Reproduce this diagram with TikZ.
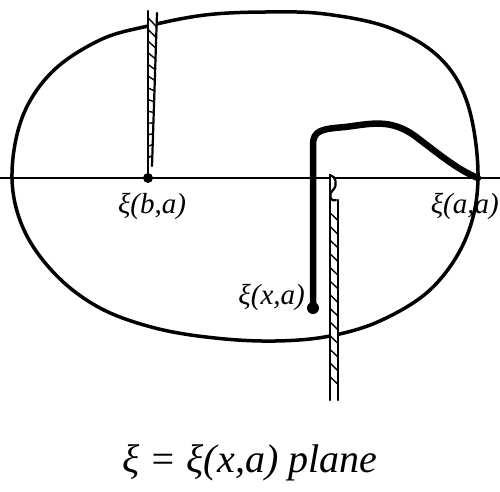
\documentclass[tikz,border=0pt]{standalone}
\usepackage{fontspec}
\setmainfont{Liberation Serif}
\usetikzlibrary{calc}
\begin{document}
\begin{tikzpicture}[x=1pt,y=-1pt,
  curve/.style={line width=3.5pt,line cap=round,line join=round},
  axis/.style={line width=2pt},
  thick path/.style={line width=6.5pt,line cap=round,line join=round},
  slitline/.style={line width=2.2pt,line cap=round},
  hatch/.style={line width=1.4pt},
  lbl/.style={font=\fontsize{29}{31}\selectfont\itshape,inner sep=1pt},
  dot/.style={circle,fill=black,inner sep=0pt,minimum size=10pt}]
\useasboundingbox (0,0) rectangle (500,491);
% horizontal axis
\coordinate (axL) at (0,178);
\coordinate (axR) at (500,178);
\draw[axis] (axL) -- (axR);
% oval
\draw[curve] plot[smooth cycle,tension=0.6] coordinates {
 (12,178) (22,118) (52,72) (100,40) (148,26) (205,15) (265,12) (325,14)
 (390,28) (440,58) (468,105) (478,178) (466,238) (432,288) (382,320)
 (330,336) (275,341) (215,338) (155,328) (100,308) (56,275) (24,230)};
% top slit
\coordinate (s1a) at (148,11);
\coordinate (s1b) at (148,178);
\coordinate (s1c) at (157,13);
\coordinate (s1d) at (152,166);
\fill[white] (s1a) -- (s1c) -- (s1d) -- (s1b) -- cycle;
\draw[slitline] (s1a) -- (s1b);
\draw[slitline] (s1c) -- (s1d);
\foreach \t in {0.04,0.11,...,0.95}{
  \draw[hatch] ($(s1a)!\t!(s1b)$) -- ($(s1c)!\t+0.05!(s1d)$);
}
\node[dot] (xba) at (s1b) {};
% thick curve
\node[dot,minimum size=12pt] (xxa) at (313,308) {};
\coordinate (bend) at (313,145);
\coordinate (aa) at (478,178);
\draw[thick path] (xxa.center) -- (bend) .. controls (313,130) and (322,129) .. (345,127)
  .. controls (370,124) and (390,118) .. (415,136) .. controls (440,155) and (458,170) .. (aa);
% bottom slit
\coordinate (s2a) at (330,175);
\coordinate (s2b) at (330,400);
\coordinate (s2c) at (338,200);
\coordinate (s2d) at (338,400);
\fill[white] (s2a) -- (336,180) -- (s2c) -- (s2d) -- (s2b) -- cycle;
\draw[slitline] (s2a) -- (s2b);
\draw[slitline] (s2c) -- (s2d);
\draw[slitline] (s2a) .. controls (336,176) and (338,185) .. (333,190)
  .. controls (328,195) and (330,202) .. (336,200);
\foreach \t in {0.04,0.11,...,0.95}{
  \draw[hatch] ($(330,205)!\t!(330,400)$) -- ($(338,205)!\t+0.04!(338,400)$);
}
% labels
\node[lbl] (lba) at (152,206) {ξ(b,a)};
\node[lbl,anchor=east] (laa) at (500,206) {ξ(a,a)};
\node[lbl,anchor=east] (lxa) at (306,297) {ξ(x,a)};
\node[font=\fontsize{40}{44}\selectfont\itshape] (title) at (250,463) {ξ = ξ(x,a) plane};
\end{tikzpicture}
\end{document}
